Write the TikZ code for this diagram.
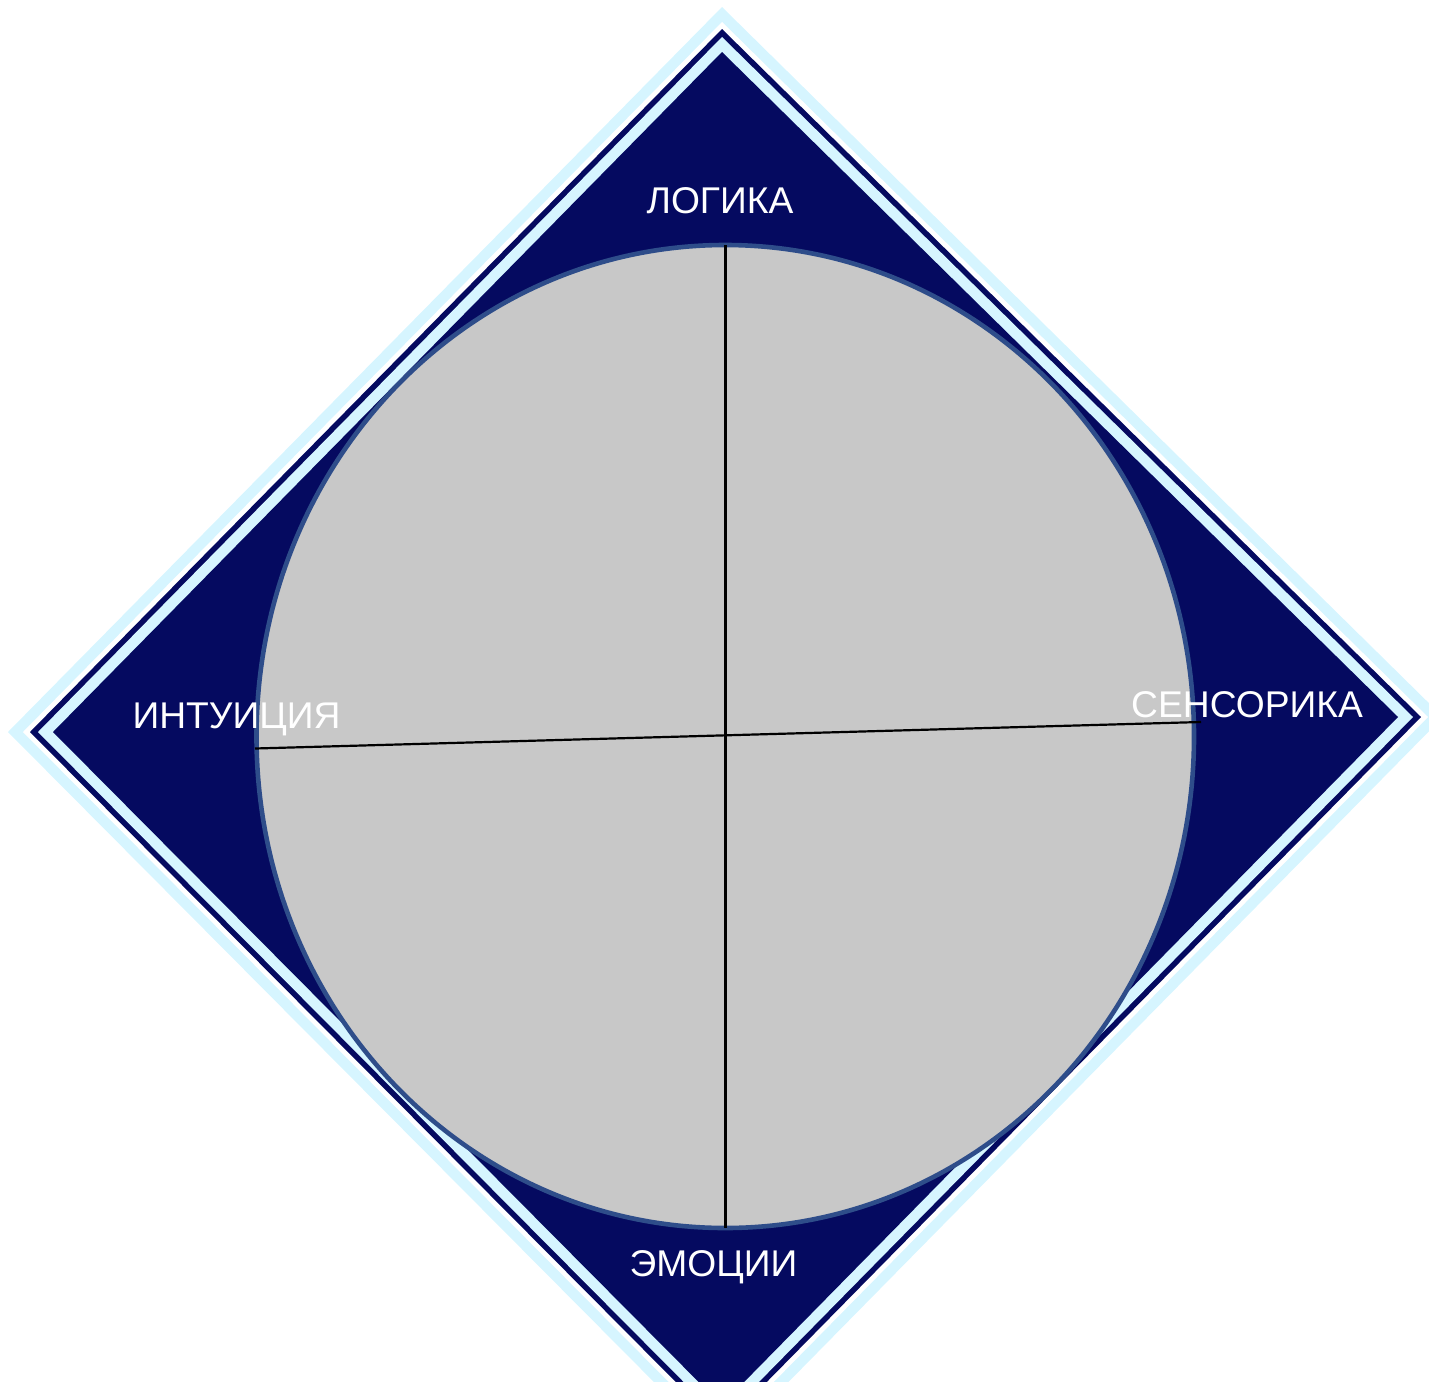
\documentclass[tikz,border=0pt]{standalone}
\usepackage{fontspec}
\setmainfont{Liberation Sans}
\definecolor{navy}{RGB}{5,10,96}
\definecolor{lcyan}{RGB}{214,245,255}
\definecolor{cgray}{RGB}{200,200,200}
\definecolor{cedge}{RGB}{46,77,138}
\tikzset{
  lbl/.style={text=white, anchor=base, inner sep=0pt, font=\fontsize{18.6}{22}\selectfont},
  axis/.style={draw=black, line width=1.1pt},
  circ/.style={fill=cgray, draw=cedge, line width=2.3pt}
}
\newcommand{\dmd}[2]{%
  \fill[#2] (722,52-#1) -- (1398+#1,717) -- (721.5,1405+#1) -- (53-#1,732) -- cycle;}
\begin{document}
\begin{tikzpicture}[x=0.5pt,y=-0.5pt]
\useasboundingbox (0,0) rectangle (1429,1381);
\dmd{45}{lcyan}
\dmd{30}{white}
\dmd{23}{navy}
\dmd{15}{lcyan}
\dmd{0}{navy}
\draw[circ] (725.25,736.5) ellipse [x radius=234.375pt, y radius=245.75pt];
\coordinate (vt) at (725.5,245);
\coordinate (vb) at (725.5,1228);
\coordinate (hl) at (255,748.5);
\coordinate (hr) at (1201,722);
\draw[axis] (vt) -- (vb);
\draw[axis] (hl) -- (hr);
\node[lbl] (logika) at (720,213) {ЛОГИКА};
\node[lbl] (intu) at (236.5,728) {ИНТУИЦИЯ};
\node[lbl] (sens) at (1247,717) {СЕНСОРИКА};
\node[lbl] (emo) at (713.5,1276) {ЭМОЦИИ};
\end{tikzpicture}
\end{document}
